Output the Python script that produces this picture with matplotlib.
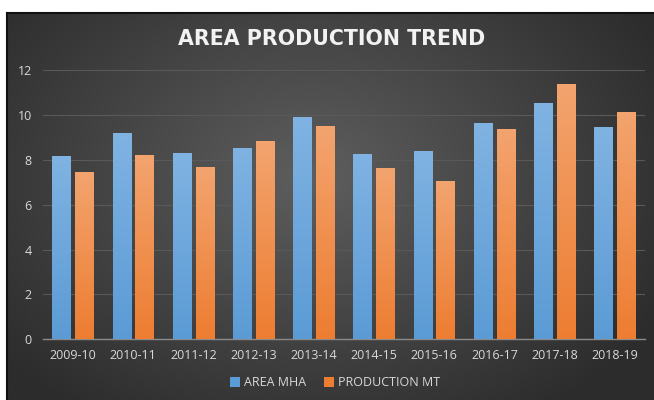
import numpy as np
import matplotlib
matplotlib.use("Agg")
import matplotlib.pyplot as plt
from matplotlib.colors import LinearSegmentedColormap
from matplotlib.patches import Patch

categories = ["2009-10", "2010-11", "2011-12", "2012-13", "2013-14",
              "2014-15", "2015-16", "2016-17", "2017-18", "2018-19"]
area_mha = [8.18, 9.19, 8.31, 8.53, 9.93, 8.25, 8.40, 9.65, 10.55, 9.46]
production_mt = [7.48, 8.24, 7.69, 8.83, 9.51, 7.66, 7.08, 9.38, 11.37, 10.13]
yticks = [0, 2, 4, 6, 8, 10, 12]
title = "AREA PRODUCTION TREND"
series_names = ["AREA MHA", "PRODUCTION MT"]

plt.rcParams['font.family'] = ['Open Sans', 'DejaVu Sans']

W, H = 654, 400
fig = plt.figure(figsize=(W / 100, H / 100), dpi=100, facecolor="white")

# background panel with radial gradient
bx0, by0, bx1, by1 = 7, 0, 654, 387
bg = fig.add_axes([bx0 / W, by0 / H, (bx1 - bx0) / W, (by1 - by0) / H])
bg.set_axis_off()
ny, nx = 300, 500
yy, xx = np.mgrid[0:ny, 0:nx]
cx, cy = nx * 0.47, ny * 0.42
r = np.sqrt(((xx - cx) / (nx * 0.62)) ** 2 + ((yy - cy) / (ny * 0.75)) ** 2)
r = np.clip(r, 0, 1)
bg_cmap = LinearSegmentedColormap.from_list("bg", ["#5e5e5e", "#454545", "#2c2c2c"])
bg.imshow(r, cmap=bg_cmap, aspect="auto", extent=[0, 1, 0, 1], origin="upper", vmin=0, vmax=1)
bg.set_xlim(0, 1)
bg.set_ylim(0, 1)
# thin dark border on top/left
fig.add_artist(plt.Line2D([bx0 / W, 1], [by1 / H, by1 / H], color="#111111", lw=1.5))
fig.add_artist(plt.Line2D([bx0 / W, bx0 / W], [0, by1 / H], color="#111111", lw=1.5))

# plot axes
ax_l, ax_r, ax_b, ax_t = 43, 645, 339.3, 70.3
ax = fig.add_axes([ax_l / W, (H - ax_b) / H, (ax_r - ax_l) / W, (ax_b - ax_t) / H])
ax.patch.set_alpha(0)
x = np.arange(len(categories))
bw = 0.31
off = 0.19
blue_cmap = LinearSegmentedColormap.from_list("b", ["#5b9bd5", "#80b3e2"])
orange_cmap = LinearSegmentedColormap.from_list("o", ["#ed7d31", "#f3a46f"])

def grad_bars(xs, vals, cmap, face):
    bars = ax.bar(xs, vals, width=bw, color=face, zorder=2, edgecolor="none")
    grad = np.linspace(0, 1, 256).reshape(-1, 1)
    for b in bars:
        x0, y0 = b.get_x(), b.get_y()
        w, h = b.get_width(), b.get_height()
        im = ax.imshow(grad, cmap=cmap, aspect="auto", origin="lower",
                       extent=[x0, x0 + w, y0, y0 + h], zorder=3, vmin=0, vmax=1)
        im.set_clip_path(b)
    return bars

grad_bars(x - off, area_mha, blue_cmap, "#5b9bd5")
grad_bars(x + off, production_mt, orange_cmap, "#ed7d31")

ax.set_xlim(-0.5, len(categories) - 0.5)
ax.set_ylim(0, 12)
ax.set_yticks(yticks)
ax.set_yticklabels([str(v) for v in yticks])
ax.set_xticks(x)
ax.set_xticklabels(categories)
ax.tick_params(axis="both", length=0, colors="#d9d9d9", labelsize=9)
ax.tick_params(axis="y", pad=8)
ax.tick_params(axis="x", pad=7)
for s in ["top", "right", "left"]:
    ax.spines[s].set_visible(False)
ax.spines["bottom"].set_color("#8a8a8a")
ax.spines["bottom"].set_linewidth(1.0)
ax.yaxis.grid(True, color="#595959", lw=0.8, zorder=0)
ax.set_axisbelow(True)

fig.text(331.5 / W, 1 - 39 / H, title, ha="center", va="center",
         fontsize=14.8, fontweight="bold", color="#f2f2f2", family="DejaVu Sans")

handles = [Patch(facecolor="#5b9bd5", edgecolor="none"),
           Patch(facecolor="#ed7d31", edgecolor="none")]
leg = fig.legend(handles, series_names, loc="center", bbox_to_anchor=(335 / W, 1 - 383 / H),
                 ncol=2, frameon=False, fontsize=9, handlelength=0.8, handleheight=0.8,
                 handletextpad=0.3, columnspacing=1.4, labelcolor="#d9d9d9")

fig.savefig("out.png", dpi=100, facecolor="white")
